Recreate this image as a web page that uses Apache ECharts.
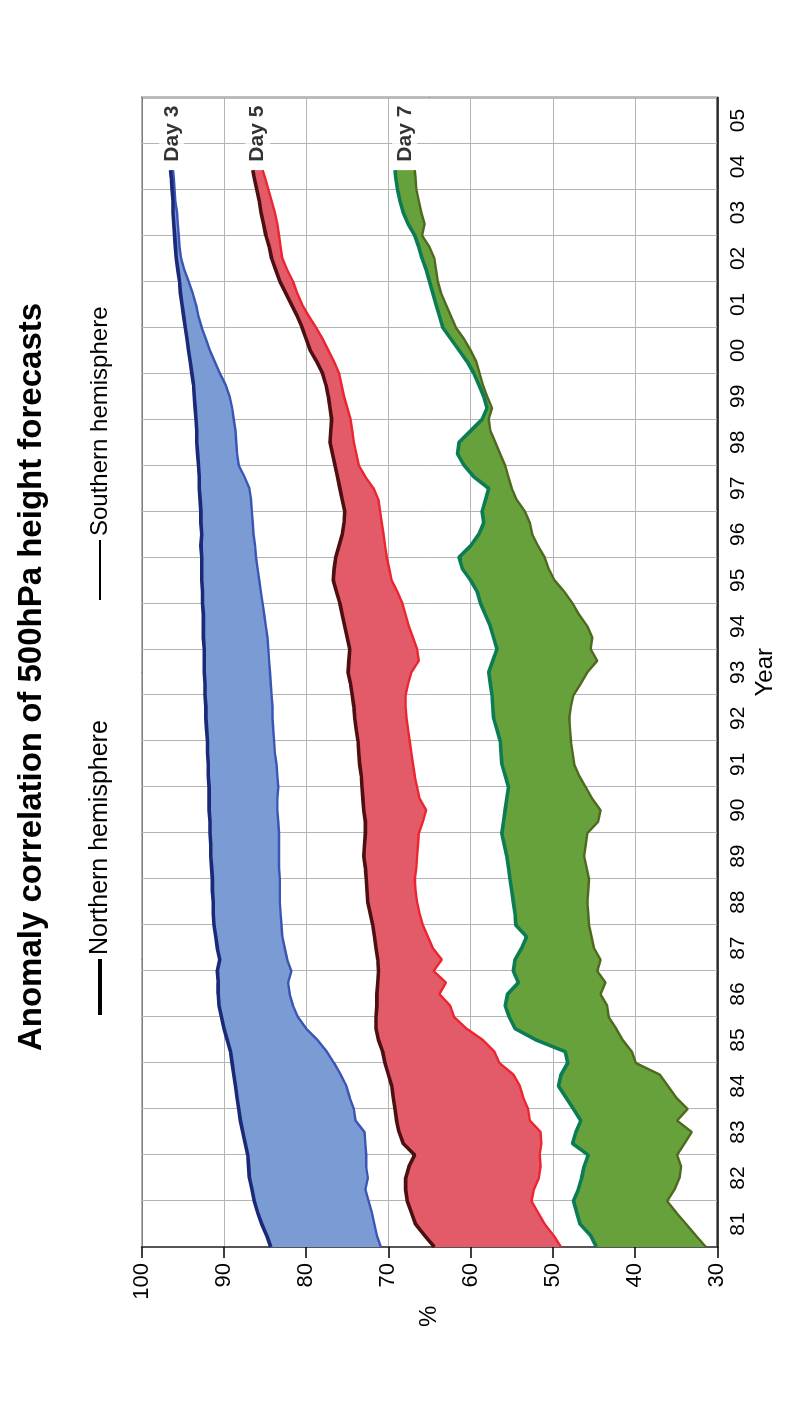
<!DOCTYPE html>
<html>
<head>
<meta charset="utf-8">
<script src="https://cdn.jsdelivr.net/npm/echarts@6/dist/echarts.min.js"></script>
<style>
  html, body { margin: 0; padding: 0; background: #fff; width: 786px; height: 1413px; overflow: hidden; }
  /* the chart is laid out in landscape and turned a quarter turn anticlockwise */
  #chart { position: absolute; left: 0; top: 0; width: 1413px; height: 786px;
           transform-origin: 0 0; transform: translate(0, 1413px) rotate(-90deg); }
</style>
</head>
<body>
<div id="chart"></div>
<script>
// time of each sample (decimal year)
const t = [1981,1981.25,1981.5,1981.75,1982,1982.25,1982.5,1982.75,1983,1983.25,1983.5,1983.75,
  1984,1984.25,1984.5,1984.75,1985,1985.25,1985.5,1985.75,1986,1986.25,1986.5,1986.75,
  1987,1987.25,1987.5,1987.75,1988,1988.25,1988.5,1988.75,1989,1989.25,1989.5,1989.75,
  1990,1990.25,1990.5,1990.75,1991,1991.25,1991.5,1991.75,1992,1992.25,1992.5,1992.75,
  1993,1993.25,1993.5,1993.75,1994,1994.25,1994.5,1994.75,1995,1995.25,1995.5,1995.75,
  1996,1996.25,1996.5,1996.75,1997,1997.25,1997.5,1997.75,1998,1998.25,1998.5,1998.75,
  1999,1999.25,1999.5,1999.75,2000,2000.25,2000.5,2000.75,2001,2001.25,2001.5,2001.75,
  2002,2002.25,2002.5,2002.75,2003,2003.25,2003.5,2003.75,2004,2004.25,2004.42];

// year tick labels (one per year interval)
const yearLabels = ['81','82','83','84','85','86','87','88','89','90','91','92','93',
  '94','95','96','97','98','99','00','01','02','03','04','05'];

// Day 3 anomaly correlation (%)
const day3North = [84.3,84.8,85.4,85.9, 86.3,86.6,86.9,87.0, 87.1,87.4,87.7,88.0, 88.2,88.4,88.6,88.8,
  89.0,89.2,89.6,90.0, 90.3,90.6,90.7,90.7, 90.8,90.5,90.8,91.0, 91.2,91.3,91.3,91.4,
  91.4,91.5,91.6,91.6, 91.7,91.7,91.8,91.8, 91.8,91.9,91.9,92.0, 92.0,92.1,92.2,92.2,
  92.3,92.3,92.4,92.4, 92.4,92.5,92.5,92.5, 92.6,92.6,92.7,92.7, 92.7,92.8,92.7,92.8,
  92.8,92.9,93.0,93.0, 93.1,93.2,93.3,93.3, 93.4,93.5,93.6,93.7, 93.9,94.1,94.3,94.5,
  94.7,94.9,95.1,95.3, 95.4,95.6,95.8,95.9, 96.0,96.1,96.2,96.2, 96.3,96.4,96.5];
const day3South = [70.9,71.4,71.7,72.0, 72.4,72.8,72.5,72.7, 72.7,72.8,72.9,74.0, 74.2,74.7,75.1,75.8,
  76.6,77.5,78.6,80.0, 81.0,81.6,82.0,82.2, 81.8,82.3,82.6,82.9, 83.0,83.1,83.2,83.2,
  83.2,83.3,83.3,83.3, 83.3,83.4,83.5,83.5, 83.4,83.5,83.6,83.8, 83.9,84.0,84.1,84.1,
  84.2,84.3,84.4,84.5, 84.6,84.7,84.9,85.1, 85.3,85.5,85.7,85.9, 86.1,86.2,86.4,86.5,
  86.6,86.7,86.9,87.5, 88.2,88.4,88.5,88.6, 88.8,89.0,89.3,89.8, 90.5,91.1,91.7,92.2,
  92.7,93.1,93.4,93.8, 94.3,94.8,95.2,95.4, 95.5,95.6,95.7,95.9, 96.0,96.1,96.2];

// Day 5 anomaly correlation (%)
const day5North = [64.4,65.6,66.7,67.2, 67.7,67.9,67.9,67.5, 66.8,68.2,68.7,69.0, 69.2,69.4,69.6,70.0,
  70.4,70.7,71.2,71.5, 71.5,71.4,71.4,71.3, 71.2,71.3,71.5,71.7, 71.9,72.2,72.5,72.6,
  72.7,72.8,73.0,72.9, 72.8,72.8,73.0,73.1, 73.2,73.3,73.5,73.6, 73.7,73.9,74.1,74.2,
  74.4,74.6,74.9,74.8, 74.7,75.0,75.3,75.6, 75.9,76.3,76.7,76.6, 76.4,76.0,75.6,75.4,
  75.3,75.6,75.9,76.2, 76.5,76.8,77.1,77.0, 76.9,77.1,77.3,77.6, 78.0,78.7,79.5,80.0,
  80.5,81.1,81.8,82.5, 83.2,83.7,84.2,84.5, 84.9,85.2,85.5,85.7, 86.0,86.3,86.5];
const day5South = [49.0,49.9,51.0,51.8, 52.6,52.3,51.7,51.5, 51.6,51.4,51.5,52.8, 53.0,53.6,54.0,54.8,
  56.5,57.1,58.5,60.5, 62.0,62.5,63.8,63.0, 64.5,63.5,64.6,65.2, 65.8,66.2,66.5,66.7,
  66.8,66.6,66.5,66.4, 66.3,65.8,65.4,66.2, 66.5,66.8,67.0,67.2, 67.4,67.6,67.8,67.9,
  67.9,67.6,67.2,66.3, 66.5,67.0,67.5,67.9, 68.3,68.9,69.6,69.9, 70.2,70.4,70.6,70.8,
  71.0,71.2,71.8,72.8, 73.6,73.9,74.2,74.4, 74.6,75.0,75.4,75.7, 76.0,76.6,77.3,78.0,
  78.8,79.7,80.5,81.1, 81.6,82.3,82.9,83.1, 83.3,83.5,83.8,84.2, 84.6,85.0,85.3];

// Day 7 anomaly correlation (%)
const day7North = [44.7,45.4,46.7,47.1, 47.5,46.9,46.5,46.2, 45.7,47.6,47.2,46.6, 47.5,48.4,49.3,49.0,
  48.2,48.5,52.0,54.6, 55.3,55.8,55.5,54.2, 54.8,54.6,53.8,53.2, 54.5,54.6,54.8,55.0,
  55.2,55.4,55.6,55.9, 56.2,56.0,55.8,55.6, 55.4,55.8,56.2,56.3, 56.4,56.8,57.2,57.3,
  57.4,57.6,57.8,57.3, 56.8,57.2,57.6,58.2, 58.8,59.2,60.0,61.0, 61.4,60.0,59.0,58.4,
  58.6,58.2,57.8,59.6, 60.8,61.6,61.4,60.0, 58.6,58.0,58.4,59.0, 59.6,60.4,61.4,62.4,
  63.4,63.8,64.2,64.6, 65.0,65.4,65.9,66.3, 66.8,67.6,68.2,68.6, 68.9,69.1,69.2];
const day7South = [31.4,32.6,33.8,35.0, 36.1,35.2,34.6,34.4, 34.9,34.0,33.1,34.9, 33.6,35.0,36.0,37.0,
  39.9,40.4,41.5,42.3, 43.2,43.4,44.2,43.6, 44.6,44.2,45.0,45.3, 45.6,45.7,45.8,45.7,
  45.6,45.9,46.2,46.0, 45.8,44.5,44.2,45.2, 46.0,46.8,47.4,47.6, 47.8,47.9,48.0,47.8,
  47.5,46.6,45.8,44.6, 45.4,45.2,45.8,46.8, 47.6,48.6,49.8,50.5, 51.0,51.8,52.5,52.8,
  53.4,54.4,55.0,55.4, 55.8,56.4,57.0,57.6, 57.8,57.4,58.0,58.5, 58.9,59.3,60.0,60.8,
  61.8,62.4,63.0,63.6, 64.0,64.2,64.4,65.0, 65.9,65.6,66.0,66.3, 66.6,66.7,66.8];

const FONT = '"Liberation Sans", Arial, Helvetica, sans-serif';

const bands = [
  { name: 'Day 3', north: day3North, south: day3South, fill: '#7b9bd4', nLine: '#1b2a78', sLine: '#3b55b5' },
  { name: 'Day 5', north: day5North, south: day5South, fill: '#e35b69', nLine: '#4d1012', sLine: '#ec2530' },
  { name: 'Day 7', north: day7North, south: day7South, fill: '#67a13b', nLine: '#0c7c54', sLine: '#4f6a1f' }
];

const pairs = (vals) => vals.map((v, i) => [t[i], v]);

const series = [];
// shaded gap between the two hemispheres, one polygon per forecast day
bands.forEach((b) => {
  series.push({
    type: 'custom', silent: true, z: 2, clip: true,
    data: t.map((x, i) => [x, b.north[i], b.south[i]]),
    encode: { x: 0, y: [1, 2] },
    renderItem: (params, api) => {
      if (params.dataIndex !== 0) return null;
      const pts = [];
      for (let i = 0; i < t.length; i++) pts.push(api.coord([t[i], b.north[i]]));
      for (let i = t.length - 1; i >= 0; i--) pts.push(api.coord([t[i], b.south[i]]));
      return { type: 'polygon', shape: { points: pts }, style: { fill: b.fill } };
    }
  });
});
bands.forEach((b) => {
  series.push({ type: 'line', data: pairs(b.south), symbol: 'none', silent: true,
    lineStyle: { color: b.sLine, width: 2.4 }, z: 4 });
  series.push({ type: 'line', data: pairs(b.north), symbol: 'none', silent: true,
    lineStyle: { color: b.nLine, width: 3.6 }, z: 5 });
  const last = t.length - 1;
  series.push({ type: 'scatter', silent: true, z: 8, symbolSize: 1,
    itemStyle: { color: 'transparent' },
    data: [[t[last], (b.north[last] + b.south[last]) / 2]],
    label: { show: true, position: 'right', distance: 4, formatter: b.name,
      fontFamily: FONT, fontWeight: 'bold', fontSize: 21, color: '#000',
      backgroundColor: '#fff', padding: [2, 4] } });
});

const chart = echarts.init(document.getElementById('chart'), null, { renderer: 'canvas' });
chart.setOption({
  animation: false,
  backgroundColor: '#fff',
  textStyle: { fontFamily: FONT },
  grid: { left: 166, right: 97.5, top: 141.7, bottom: 68.7, show: true,
          borderColor: '#000', borderWidth: 1.5, backgroundColor: 'transparent' },
  xAxis: [
    { type: 'value', min: 1981, max: 2006, show: false },
    { type: 'category', data: yearLabels, boundaryGap: true, position: 'bottom',
      name: 'Year', nameLocation: 'middle', nameGap: 34,
      nameTextStyle: { fontSize: 24, color: '#000', fontFamily: FONT },
      axisLine: { lineStyle: { color: '#000', width: 1.5 } },
      axisTick: { interval: 0, length: 11, lineStyle: { color: '#000', width: 1.5 } },
      axisLabel: { interval: 0, fontSize: 21, color: '#000', margin: 10, fontFamily: FONT },
      splitLine: { show: true, interval: 0, lineStyle: { color: '#b4b4b4', width: 1 } } }
  ],
  yAxis: {
    type: 'value', min: 30, max: 100, interval: 10,
    name: '%', nameLocation: 'middle', nameGap: 52, nameRotate: 0,
    nameTextStyle: { fontSize: 24, color: '#000', fontFamily: FONT },
    axisLine: { show: true, lineStyle: { color: '#555', width: 2 } },
    axisTick: { show: true, length: 11, lineStyle: { color: '#000', width: 1.5 } },
    axisLabel: { fontSize: 22, color: '#000', margin: 16, fontFamily: FONT },
    splitLine: { lineStyle: { color: '#b4b4b4', width: 1 } }
  },
  graphic: [
    { type: 'text', x: 736, y: 32, silent: true,
      style: { text: 'Anomaly correlation of 500hPa height forecasts',
               font: 'bold 33px ' + FONT, fill: '#000', align: 'center', verticalAlign: 'middle' } },
    { type: 'line', silent: true, shape: { x1: 398, y1: 100, x2: 454, y2: 100 },
      style: { stroke: '#000', lineWidth: 4 } },
    { type: 'text', x: 458, y: 100, silent: true,
      style: { text: 'Northern hemisphere', font: '25px ' + FONT, fill: '#000', verticalAlign: 'middle' } },
    { type: 'line', silent: true, shape: { x1: 813, y1: 100, x2: 873, y2: 100 },
      style: { stroke: '#000', lineWidth: 2.2 } },
    { type: 'text', x: 877, y: 100, silent: true,
      style: { text: 'Southern hemisphere', font: '24px ' + FONT, fill: '#000', verticalAlign: 'middle' } }
  ],
  series
});
</script>
</body>
</html>
